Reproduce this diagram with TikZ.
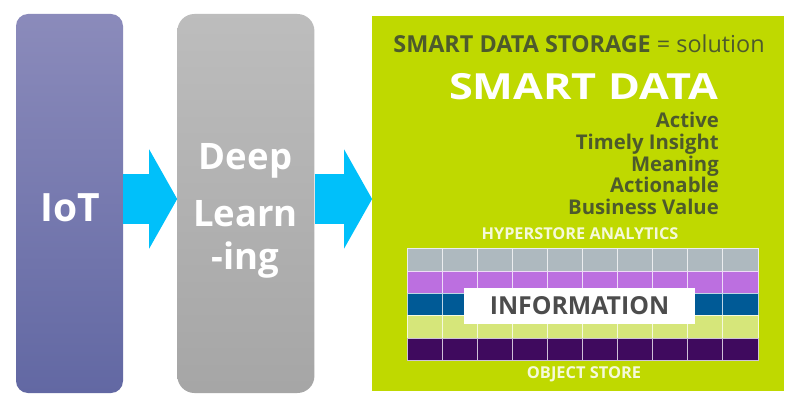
\documentclass[tikz,border=0pt]{standalone}
\usepackage{fontspec}
\setmainfont{Open Sans}
\usepackage{tikz}
\usetikzlibrary{arrows.meta, positioning, calc}
\definecolor{inkgreen}{HTML}{4D5A2C}
\definecolor{lime}{HTML}{BFD900}
\definecolor{flow}{HTML}{00C0FA}
\definecolor{iottop}{HTML}{8B8BBB}
\definecolor{iotbot}{HTML}{6268A3}
\definecolor{rowa}{HTML}{AEB9BF}
\definecolor{rowb}{HTML}{BC6FE0}
\definecolor{rowc}{HTML}{005A96}
\definecolor{rowd}{HTML}{D6E67A}
\definecolor{rowe}{HTML}{3F0A5E}
\begin{document}
\begin{tikzpicture}
        [
            x=1pt, y=-1pt,
            panel/.style={rounded corners=#1, minimum height=379pt, inner sep=0pt},
            flowarrow/.style={line width=49pt, flow,
                          -{Triangle[length=28pt,width=98pt]}},
            cell/.style={draw=#1!25!white, fill=#1, line width=1pt, inner sep=0pt,
                          minimum width=35.1pt, minimum height=22.2pt}
        ]
        \useasboundingbox (0,0) rectangle (800,406);
        \fill [white] (0,0) rectangle (800,406);
        \node (iot) [panel=12pt, minimum width=107pt, top color=iottop,
                     bottom color=iotbot] at (69.5,203.5) {};
        \node (iottext) [text=white, font=\bfseries\fontsize{39}{45}\selectfont]
                     at (70.5,207.5) {IoT};
        \node (deep) [panel=17pt, minimum width=137pt, right=54pt of iot, top color=black!26,
                      bottom color=black!35] {};
        \node (deeptext) [align=center, text=white, font=\bfseries\fontsize{36.5}{43}\selectfont]
                      at (245.5,211) {Deep\\[14pt]Learn\\-ing};
        \node (store) [fill=lime, minimum width=412pt, minimum height=375pt, inner sep=0pt,
                       right=57.5pt of deep] {};
        \draw [flowarrow] ([yshift=4.5pt]iot.east) -- ([yshift=4.5pt]deep.west);
        \draw [flowarrow] ([yshift=4.5pt]deep.east) -- ([yshift=4.5pt]store.west);
        \node (title) [text=inkgreen, inner sep=0pt, font=\fontsize{23.4}{28}\selectfont]
                      at (579,44) {\textbf{SMART DATA STORAGE} = solution};
        \node (smart) [text=white, inner sep=0pt, xscale=1.2, font=\bfseries\fontsize{36}{44}\selectfont]
                      at (583.5,87) {SMART DATA};
        \node (values) [text=inkgreen, align=right, inner sep=0pt, anchor=north east,
                        font=\bfseries\fontsize{20.3}{21.7}\selectfont] at (719,112)
                       {Active\\Timely Insight\\Meaning\\Actionable\\Business Value};
        \node (analytics) [text=white!85!lime, inner sep=0pt, font=\bfseries\fontsize{16.3}{19}\selectfont]
                      at (580,234) {HYPERSTORE ANALYTICS};
        \foreach \r/\col in {0/rowa,1/rowb,2/rowc,3/rowd,4/rowe}
            \foreach \c in {0,...,9}
                \node (cell\r\c) [cell=\col] at (424.6+35.1*\c,260+22.3*\r) {};
        \node (info) [fill=white, minimum width=231pt, minimum height=36pt, inner sep=0pt,
                      text=black!70, font=\bfseries\fontsize{24.8}{29}\selectfont] at (579.5,306)
                      {INFORMATION};
        \node (object) [text=white!85!lime, inner sep=0pt, font=\bfseries\fontsize{16.4}{19}\selectfont]
                      at (584,374) {OBJECT STORE};
    \end{tikzpicture}
\end{document}
